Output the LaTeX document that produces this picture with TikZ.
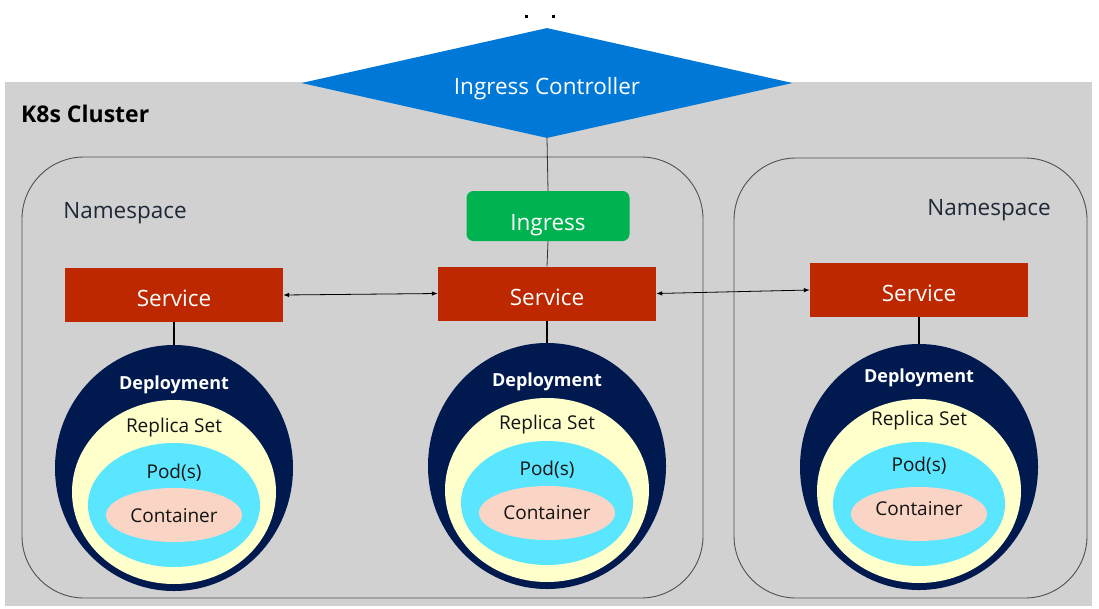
\documentclass[tikz,border=0pt]{standalone}
\usepackage{fontspec}
\setmainfont{Open Sans}
\usetikzlibrary{shapes.geometric,arrows.meta,calc}
\definecolor{clgray}{RGB}{209,209,209}
\definecolor{icblue}{RGB}{0,120,215}
\definecolor{inggreen}{RGB}{0,178,80}
\definecolor{svcred}{RGB}{190,40,0}
\definecolor{depnavy}{RGB}{0,26,80}
\definecolor{rsyellow}{RGB}{255,255,204}
\definecolor{podcyan}{RGB}{90,230,255}
\definecolor{ctpeach}{RGB}{250,212,196}
\definecolor{nstext}{RGB}{30,40,55}
\definecolor{nsline}{RGB}{80,80,80}
\tikzset{
  fsz/.style={font=\fontsize{#1}{#1}\selectfont},
  nsbox/.style={draw=nsline, line width=0.9pt, rounded corners=62pt, inner sep=0pt},
  svcbox/.style={fill=svcred, text=white, minimum width=218pt, minimum height=54pt, inner sep=0pt, fsz=22.5, text height=23pt, text depth=0pt},
  depl/.style={ellipse, fill=depnavy, minimum width=238pt, minimum height=246pt, inner sep=0pt},
  rset/.style={ellipse, fill=rsyellow, minimum width=204pt, minimum height=184pt, inner sep=0pt},
  podel/.style={ellipse, fill=podcyan, minimum width=172pt, minimum height=124pt, inner sep=0pt},
  ctel/.style={ellipse, fill=ctpeach, minimum width=136pt, minimum height=54pt, inner sep=0pt},
  deptext/.style={text=white, font=\fontsize{18}{18}\selectfont\bfseries, inner sep=0pt},
  intext/.style={text=black!92, fsz=19, inner sep=0pt},
  conn/.style={draw=black!80, line width=0.8pt},
  dconn/.style={draw=black, line width=1.8pt},
  biarrow/.style={draw=black, line width=0.8pt, {Latex[length=6pt,width=4.5pt]}-{Latex[length=6pt,width=4.5pt]}}
}
% #1 name suffix, #2 centre, #3 text shift
\newcommand\depgroup[3]{%
  \node[depl] (dep#1) at (#2) {};
  \node[rset] (rs#1) at ($(#2)+(0,24)$) {};
  \node[podel] (pod#1) at ($(#2)+(0,37)$) {};
  \node[ctel] (ct#1) at ($(#2)+(0,47)$) {};
  \node[deptext] (dept#1) at ($(#2)+(0,-86+#3)$) {Deployment};
  \node[intext] (rst#1) at ($(#2)+(0,-43+#3)$) {Replica Set};
  \node[intext] (podt#1) at ($(#2)+(0,2+#3)$) {Pod(s)};
  \node[intext] (ctt#1) at ($(#2)+(0,45+#3)$) {Container};
}
\begin{document}
\begin{tikzpicture}[x=1pt,y=-1pt]
\useasboundingbox[fill=white] (0,0) rectangle (1099,608);
% cluster
\node[fill=clgray, minimum width=1087pt, minimum height=524pt, inner sep=0pt] (cluster) at (548.5,344) {};
\node[anchor=west, font=\fontsize{23}{23}\selectfont\bfseries, inner sep=0pt] (k8s) at (21,114) {K8s Cluster};
% namespaces
\node[nsbox, minimum width=681pt, minimum height=441pt] (ns1) at (362.5,377.5) {};
\node[nsbox, minimum width=353pt, minimum height=440pt] (ns2) at (910.5,378) {};
\node[text=nstext, fsz=22.5, inner sep=0pt] (ns1t) at (125,213) {Namespace};
\node[text=nstext, fsz=22.5, inner sep=0pt] (ns2t) at (989,210) {Namespace};
% dots
\fill (524.5,14.5) rectangle +(3,3);
\fill (551.5,14.5) rectangle +(3,3);
% ingress controller
\node[diamond, aspect=4.46, fill=icblue, text=white, minimum width=491pt, minimum height=110pt, inner sep=0pt, fsz=22.5, text height=22pt, text depth=0pt] (ic) at (547,83) {Ingress Controller};
% ingress
\node[fill=inggreen, rounded corners=7pt, text=white, minimum width=163pt, minimum height=50pt, inner sep=0pt, fsz=22.5, text height=28pt, text depth=0pt] (ing) at (548,216) {Ingress};
% services
\node[svcbox] (svc1) at (174,295) {Service};
\node[svcbox] (svc2) at (547,293.5) {Service};
\node[svcbox] (svc3) at (919,290) {Service};
% connectors
\draw[conn] (ic.south) -- (ing.north);
\draw[conn] (ing.south) -- (svc2.north);
\draw[biarrow] (svc1.east) -- (svc2.west);
\draw[biarrow] (svc2.east) -- (svc3.west);
% deployments
\depgroup{1}{174,468}{3}
\depgroup{2}{547,466}{2}
\depgroup{3}{919,467}{-3}
\draw[dconn] (svc1.south) -- (dep1.north);
\draw[dconn] (svc2.south) -- (dep2.north);
\draw[dconn] (svc3.south) -- (dep3.north);
\end{tikzpicture}
\end{document}
